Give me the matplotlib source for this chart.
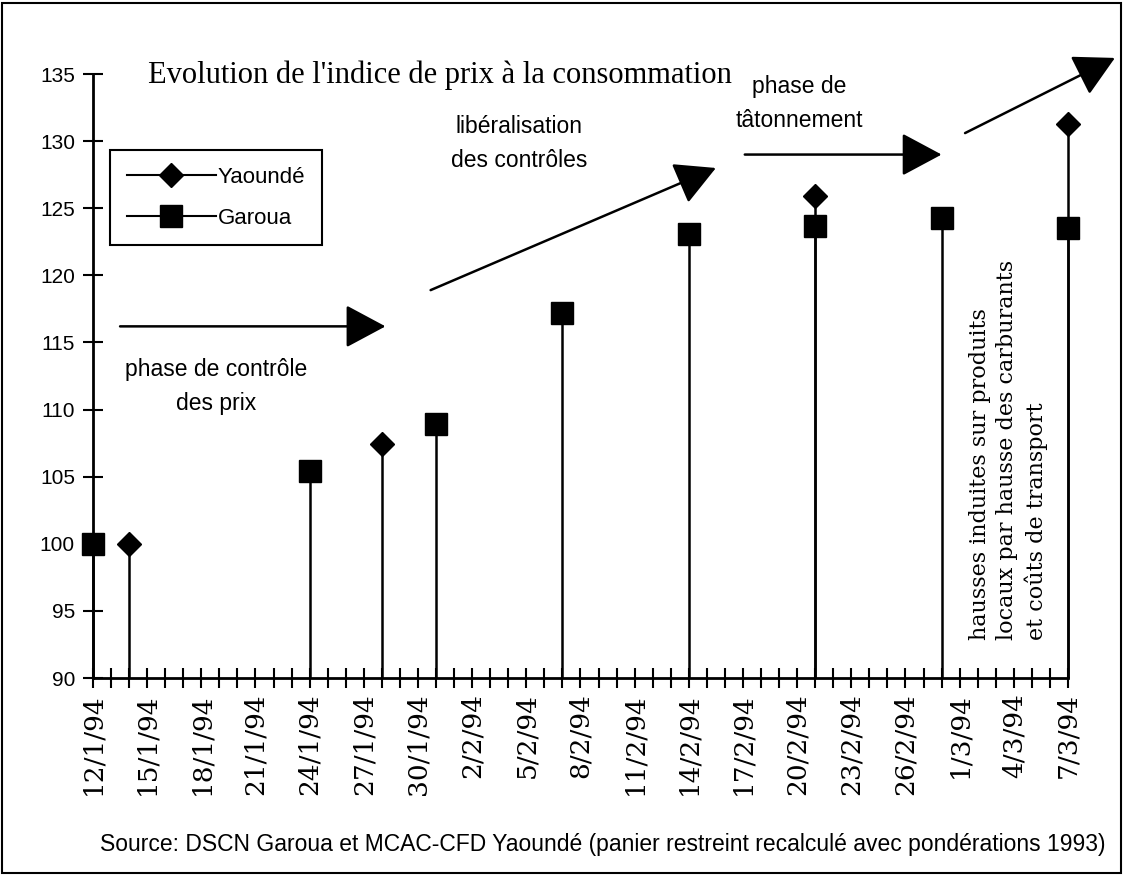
import pandas as pd
import matplotlib
matplotlib.use("Agg")
import matplotlib.pyplot as plt
from matplotlib.lines import Line2D
from matplotlib.patches import Rectangle

# Price index values
yaounde_dates = ['1994-01-14', '1994-01-28', '1994-02-21', '1994-03-07']
yaounde_values = [100.0, 107.4, 125.9, 131.3]

garoua_dates = ['1994-01-12', '1994-01-24', '1994-01-31', '1994-02-07',
                '1994-02-14', '1994-02-21', '1994-02-28', '1994-03-07']
garoua_values = [100.0, 105.4, 108.9, 117.2, 123.1, 123.7, 124.3, 123.5]

start_date = '1994-01-12'
end_date = '1994-03-07'
y_ticks = [90, 95, 100, 105, 110, 115, 120, 125, 130, 135]

SANS = 'Liberation Sans'
SERIF_TITLE = 'Liberation Serif'
SERIF = 'DejaVu Serif'


def main():
    fig = plt.figure(figsize=(11.23, 8.75), dpi=100)
    ax = fig.add_axes([0.0828, 0.2251, 0.8682, 0.6903])

    y_dates = pd.to_datetime(yaounde_dates)
    g_dates = pd.to_datetime(garoua_dates)

    # drop lines down to the axis
    ax.vlines(y_dates, 90, yaounde_values, color='black', lw=1.8, zorder=2,
              clip_on=False)
    ax.vlines(g_dates, 90, garoua_values, color='black', lw=1.8, zorder=2,
              clip_on=False)
    ax.plot(y_dates, yaounde_values, ls='none', marker='D', ms=12,
            color='black', zorder=3, clip_on=False)
    ax.plot(g_dates, garoua_values, ls='none', marker='s', ms=16,
            color='black', zorder=4, clip_on=False)

    # axes styling
    days = pd.date_range(start_date, end_date, freq='D')
    ax.set_xlim(days[0], days[-1])
    ax.set_ylim(90, 135)
    ax.set_xticks(days)
    ax.set_xticklabels([f"{d.day}/{d.month}/94" if i % 3 == 0 else ''
                        for i, d in enumerate(days)],
                       rotation=90, family=SERIF, fontsize=19)
    ax.set_yticks(y_ticks)
    ax.set_yticklabels([str(v) for v in y_ticks], family=SANS, fontsize=15)
    ax.tick_params(axis='both', direction='inout', length=14, width=1.5)
    ax.tick_params(axis='x', pad=4)
    ax.tick_params(axis='y', pad=6)
    for side in ['top', 'right']:
        ax.spines[side].set_visible(False)
    for side in ['left', 'bottom']:
        ax.spines[side].set_linewidth(2)

    # legend
    handles = [
        Line2D([], [], color='black', lw=1.5, marker='D', ms=12),
        Line2D([], [], color='black', lw=1.5, marker='s', ms=16),
    ]
    leg = fig.legend(handles, ['Yaoundé', 'Garoua'], loc='upper left',
                     bbox_to_anchor=(110 / 1123, 1 - 150 / 875),
                     borderaxespad=0,
                     prop={'family': SANS, 'size': 16}, handlelength=4,
                     handletextpad=0.1, borderpad=0.75, labelspacing=0.9,
                     fancybox=False, framealpha=1, edgecolor='black')
    leg.get_frame().set_linewidth(1.5)

    # phase arrows
    arrow_kw = dict(arrowstyle='-|>,head_length=1.4,head_width=0.75',
                    mutation_scale=18, lw=1.8, color='black',
                    shrinkA=0, shrinkB=0)

    def day(n):
        return days[0] + pd.Timedelta(days=n)

    arrows = [((1.5, 116.2), (16.2, 116.2)),
              ((18.7, 118.9), (34.5, 128.0)),
              ((36.1, 129.0), (47.0, 129.0)),
              ((48.3, 130.6), (56.6, 136.2))]
    for (x0, y0), (x1, y1) in arrows:
        ax.annotate('', xy=(day(x1), y1), xytext=(day(x0), y0),
                    arrowprops=arrow_kw, annotation_clip=False)

    # phase labels
    ax.text(day(6.8), 111.7, 'phase de contrôle\ndes prix', ha='center',
            va='center', family=SANS, fontsize=16.5, linespacing=1.6)
    ax.text(day(23.6), 129.8, 'libéralisation\ndes contrôles', ha='center',
            va='center', family=SANS, fontsize=16.5, linespacing=1.6)
    ax.text(day(39.1), 132.8, 'phase de\ntâtonnement', ha='center',
            va='center', family=SANS, fontsize=16.5, linespacing=1.6)
    ax.text(day(50.7), 92.8,
            'hausses induites sur produits\nlocaux par hausse des carburants\net coûts de transport',
            rotation=90, ha='center', va='bottom', family=SERIF,
            fontsize=16, linespacing=1.32, multialignment='left')

    # title and source
    fig.text(148 / 1123, 1 - 75 / 875,
             "Evolution de l'indice de prix à la consommation",
             ha='left', va='center', family=SERIF_TITLE, fontsize=22)
    fig.text(603 / 1123, 1 - 845 / 875,
             'Source: DSCN Garoua et MCAC-CFD Yaoundé (panier restreint '
             'recalculé avec pondérations 1993)',
             ha='center', va='center', family=SANS, fontsize=16.5)

    # outer frame
    fig.patches.append(Rectangle((0.002, 0.002), 0.996, 0.995,
                                 transform=fig.transFigure, fill=False,
                                 lw=1.5, edgecolor='black'))

    fig.savefig('out.png', dpi=100)


if __name__ == '__main__':
    main()
